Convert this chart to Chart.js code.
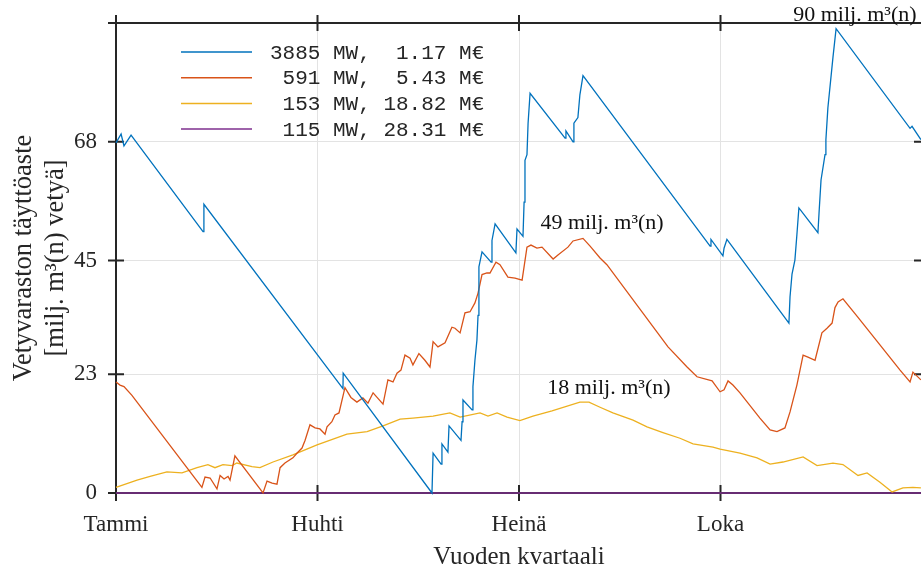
<!DOCTYPE html>
<html>
<head>
<meta charset="utf-8">
<script src="https://cdn.jsdelivr.net/npm/chart.js@4.4.1/dist/chart.umd.min.js"></script>
<style>
    html, body { margin: 0; padding: 0; overflow: hidden; background: #fff; }
    canvas { display: block; }
</style>
</head>
<body>
<canvas id="storage-chart" width="930" height="572"></canvas>
<script>
"use strict";

// x axis: day of year, four equal quarters
var quarterDays = [0, 91, 182, 273, 364];
var quarterLabels = ['Tammi', 'Huhti', 'Heinä', 'Loka', ''];

// y axis: storage level, milj. m3(n)
var levelTicks = [0, 23, 45, 68, 91];
var levelLabels = ['0', '23', '45', '68', ''];

// 3885 MW
var blueDays = [0, 2.3, 3.6, 6.8, 39.3, 39.7, 102.5, 102.6, 142.7, 143.2, 146.8, 147.2, 149.9, 150.4,
    155.8, 156.3, 156.7, 160.8, 161.2, 162.1, 163.0, 163.5, 163.9, 165.3, 169.4, 169.8, 171.2,
    180.6, 181.1, 183.8, 184.3, 184.7, 185.6, 186.1, 187.0, 202.8, 203.2, 206.4, 206.8, 208.6,
    209.5, 210.9, 268.3, 268.7, 274.1, 274.6, 275.9, 303.9, 304.4, 305.3, 306.6, 307.5, 308.4,
    317.0, 317.5, 318.4, 320.2, 320.6, 321.5, 323.8, 325.2, 358.6, 359.5, 363.5];
var blueLevel = [67.8, 69.5, 67.2, 69.3, 50.6, 55.9, 20.2, 23.2, 0, 7.7, 5.6, 9.5, 7.9, 13.0,
    10.2, 13.8, 18.0, 16.1, 20.6, 25.7, 29.6, 34.4, 43.8, 46.7, 44.7, 48.9, 52.1,
    46.5, 51.1, 49.7, 56.3, 64.4, 65.5, 71.6, 77.4, 68.7, 70.1, 68.0, 71.6, 72.7,
    77.1, 80.8, 47.8, 49.1, 45.9, 47.4, 49.1, 32.9, 38.0, 42.4, 45.1, 50.0, 55.2,
    50.4, 54.2, 60.6, 65.5, 68.4, 74.6, 84.4, 89.9, 70.6, 71.0, 68.4];

// 591 MW
var orangeDays = [0, 1.8, 3.6, 7.2, 38.8, 40.2, 42.5, 45.6, 47.0, 48.8, 50.6, 51.5, 53.7, 66.4,
    68.2, 70.5, 72.7, 74.1, 76.3, 79.9, 81.7, 84.0, 85.4, 87.6, 89.9, 92.1, 94.4, 95.3, 97.5,
    98.9, 100.7, 103.4, 106.1, 108.8, 111.5, 113.8, 116.1, 120.6, 122.8, 125.1, 126.9, 128.7,
    130.5, 132.8, 134.1, 136.8, 139.5, 141.8, 143.2, 145.4, 148.6, 151.7, 153.1, 155.4, 157.6,
    159.9, 162.1, 163.5, 165.3, 167.5, 168.9, 171.6, 173.4, 177.0, 180.2, 183.4, 185.6, 187.4,
    190.1, 192.4, 197.4, 199.6, 204.1, 206.4, 210.9, 214.1, 218.6, 221.7, 249.3, 257.9, 262.4,
    269.2, 272.8, 274.6, 276.4, 278.6, 281.8, 290.8, 295.4, 298.5, 302.1, 304.4, 307.5, 310.3,
    312.5, 315.7, 318.8, 321.1, 323.4, 324.7, 326.1, 328.3, 335.1, 354.1, 358.6, 359.9, 363.5];
var orangeLevel = [21.5, 20.9, 20.6, 18.9, 1.1, 3.1, 2.9, 0.8, 3.4, 2.7, 3.2, 2.5, 7.2, 0,
    2.3, 1.9, 1.7, 4.9, 5.8, 6.8, 7.7, 8.7, 10.2, 13.2, 12.6, 12.4, 11.4, 12.8, 13.8,
    15.1, 15.5, 20.4, 18.5, 17.6, 18.4, 17.4, 19.4, 17.2, 21.9, 21.5, 23.2, 23.8,
    26.7, 26.1, 24.8, 27.0, 25.7, 24.4, 29.3, 28.3, 29.1, 32.1, 31.9, 31.0, 34.9,
    35.1, 36.8, 38.7, 42.3, 42.6, 42.6, 44.7, 44.2, 41.8, 41.6, 41.2, 47.6, 48.0,
    47.4, 47.6, 45.3, 46.1, 47.6, 48.8, 49.3, 47.8, 45.5, 44.2, 28.3, 24.4, 22.5,
    21.7, 19.6, 20.0, 21.7, 20.9, 19.4, 14.5, 12.2, 11.9, 12.6, 15.7, 20.9, 26.7,
    26.3, 25.7, 31.0, 31.9, 32.9, 35.9, 37.0, 37.6, 34.0, 23.8, 21.5, 23.4, 21.9];

// 153 MW
var yellowDays = [0, 9.5, 15.4, 23.0, 29.8, 36.6, 41.5, 44.7, 48.3, 52.4, 54.6, 61.4, 65.0, 70.9,
    79.9, 90.8, 104.3, 113.4, 120.6, 128.3, 134.1, 143.2, 150.8, 155.4, 164.4, 168.0, 172.1,
    176.6, 182.4, 188.3, 196.9, 209.5, 213.6, 218.6, 224.4, 233.5, 239.8, 247.0, 254.7, 260.6,
    269.6, 272.8, 281.8, 289.5, 295.4, 301.2, 310.3, 316.6, 323.8, 328.3, 335.1, 339.2, 345.0,
    350.5, 355.4, 359.9, 363.5];
var yellowLevel = [1.1, 2.5, 3.2, 4.1, 3.9, 4.9, 5.5, 4.9, 5.5, 5.3, 5.8, 5.1, 4.9, 6.0,
    7.4, 9.3, 11.4, 11.9, 13.0, 14.3, 14.5, 14.9, 15.5, 14.7, 15.5, 14.9, 15.5,
    14.7, 14.0, 14.9, 15.9, 17.6, 17.6, 16.6, 15.5, 14.1, 12.8, 11.7, 10.6, 9.5,
    8.9, 8.5, 7.7, 6.8, 5.6, 6.0, 7.0, 5.3, 5.8, 5.5, 3.4, 3.9, 2.1,
    0.2, 1.0, 1.1, 1.0];

// 115 MW
var purpleDays = [0, 364];
var purpleLevel = [0, 0];

var seriesLabels = ['3885 MW,  1.17 M€', ' 591 MW,  5.43 M€', ' 153 MW, 18.82 M€', ' 115 MW, 28.31 M€'];
var seriesColors = ['#0072BD', '#D95319', '#EDB120', '#7E2F8E'];

// peak annotations
var noteTexts = ['90 milj. m³(n)', '49 milj. m³(n)', '18 milj. m³(n)'];
var noteDays = [333.7, 219.5, 222.6];
var noteLevels = [91.4, 51.1, 19.2];

var axisColor = '#262626';
var serif = "'Liberation Serif', 'Times New Roman', serif";

function toPoints(days, levels) {
    return days.map(function(d, i) {
        return { x: d, y: levels[i] };
    });
}

// black box with ticks crossing the axes, drawn under the lines
var framePlugin = {
    id: 'frame',
    beforeDatasetsDraw: function(chart) {
        var ctx = chart.ctx;
        var a = chart.chartArea;
        var xs = chart.scales.x;
        var ys = chart.scales.y;
        ctx.save();
        ctx.strokeStyle = axisColor;
        ctx.lineWidth = 2;
        ctx.beginPath();
        ctx.moveTo(a.left, a.top);
        ctx.lineTo(a.right, a.top);
        ctx.moveTo(a.left, a.bottom);
        ctx.lineTo(a.right, a.bottom);
        ctx.moveTo(a.left, a.top);
        ctx.lineTo(a.left, a.bottom);
        ctx.moveTo(a.right, a.top);
        ctx.lineTo(a.right, a.bottom);
        quarterDays.forEach(function(d) {
            var px = xs.getPixelForValue(d);
            ctx.moveTo(px, a.top - 8);
            ctx.lineTo(px, a.top + 8);
            ctx.moveTo(px, a.bottom - 8);
            ctx.lineTo(px, a.bottom + 8);
        });
        levelTicks.forEach(function(v) {
            var py = ys.getPixelForValue(v);
            ctx.moveTo(a.left - 8, py);
            ctx.lineTo(a.left + 8, py);
            ctx.moveTo(a.right - 8, py);
            ctx.lineTo(a.right + 8, py);
        });
        ctx.stroke();
        ctx.restore();
    }
};

// legend box and peak labels
var notesPlugin = {
    id: 'notes',
    afterDatasetsDraw: function(chart) {
        var ctx = chart.ctx;
        var xs = chart.scales.x;
        var ys = chart.scales.y;
        ctx.save();
        ctx.font = "21px 'Liberation Mono', 'Courier New', monospace";
        ctx.textBaseline = 'middle';
        ctx.textAlign = 'left';
        seriesLabels.forEach(function(label, i) {
            var y = 52 + i * 25.7;
            ctx.strokeStyle = seriesColors[i];
            ctx.lineWidth = 1.5;
            ctx.beginPath();
            ctx.moveTo(181, y);
            ctx.lineTo(252, y);
            ctx.stroke();
            ctx.fillStyle = axisColor;
            ctx.fillText(label, 270, y + 1);
        });

        ctx.font = '22px ' + serif;
        ctx.textAlign = 'center';
        ctx.textBaseline = 'alphabetic';
        ctx.fillStyle = '#111';
        noteTexts.forEach(function(t, i) {
            ctx.fillText(t, xs.getPixelForValue(noteDays[i]), ys.getPixelForValue(noteLevels[i]));
        });
        ctx.restore();
    }
};

function makeSet(days, levels, i) {
    return {
        label: seriesLabels[i],
        data: toPoints(days, levels),
        borderColor: seriesColors[i],
        backgroundColor: seriesColors[i],
        borderWidth: 1.3,
        pointRadius: 0,
        tension: 0,
        clip: 6
    };
}

var storageChart = new Chart(document.getElementById('storage-chart'), {
    type: 'line',
    data: {
        datasets: [
            makeSet(blueDays, blueLevel, 0),
            makeSet(orangeDays, orangeLevel, 1),
            makeSet(yellowDays, yellowLevel, 2),
            makeSet(purpleDays, purpleLevel, 3)
        ]
    },
    options: {
        responsive: false,
        animation: false,
        layout: { padding: { top: 23, right: 8, bottom: 0, left: 0 } },
        plugins: {
            legend: { display: false },
            tooltip: { enabled: false }
        },
        scales: {
            x: {
                type: 'linear',
                min: 0,
                max: 364,
                afterBuildTicks: function(scale) {
                    scale.ticks = quarterDays.map(function(d) { return { value: d }; });
                },
                afterFit: function(scale) {
                    scale.height = 79;
                    scale.paddingLeft = 0;
                    scale.paddingRight = 0;
                },
                ticks: {
                    autoSkip: false,
                    maxRotation: 0,
                    padding: 18,
                    color: axisColor,
                    font: { family: serif, size: 23 },
                    callback: function(value, index) {
                        return quarterLabels[index];
                    }
                },
                grid: { color: '#e3e3e3', lineWidth: 1, drawTicks: false },
                border: { display: false },
                title: {
                    display: true,
                    text: 'Vuoden kvartaali',
                    color: axisColor,
                    font: { family: serif, size: 25 },
                    padding: { top: 0, bottom: 0 }
                }
            },
            y: {
                type: 'linear',
                min: 0,
                max: 91,
                afterBuildTicks: function(scale) {
                    scale.ticks = levelTicks.map(function(v) { return { value: v }; });
                },
                afterFit: function(scale) {
                    scale.width = 116;
                    scale.paddingTop = 0;
                    scale.paddingBottom = 0;
                },
                ticks: {
                    padding: 19,
                    color: axisColor,
                    font: { family: serif, size: 23 },
                    callback: function(value, index) {
                        return levelLabels[index];
                    }
                },
                grid: { color: '#e3e3e3', lineWidth: 1, drawTicks: false },
                border: { display: false },
                title: {
                    display: true,
                    text: ['Vetyvaraston täyttöaste', '[milj. m³(n) vetyä]'],
                    color: axisColor,
                    font: { family: serif, size: 26.5 },
                    padding: { top: 8, bottom: 0 }
                }
            }
        }
    },
    plugins: [framePlugin, notesPlugin]
});
</script>
</body>
</html>
